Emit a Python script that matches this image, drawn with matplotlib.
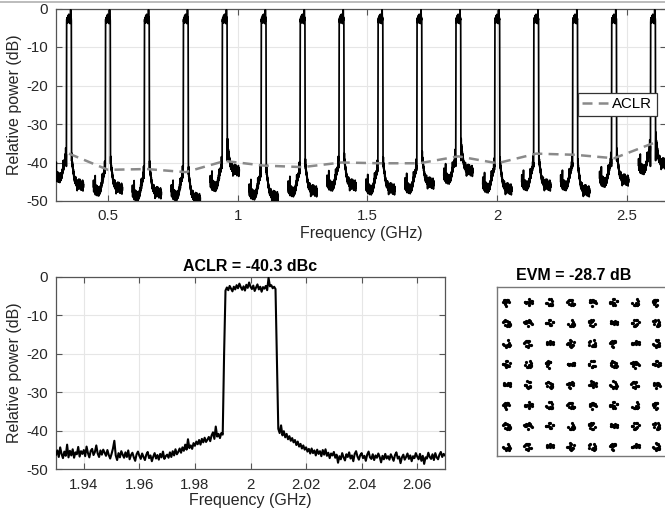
import numpy as np
import matplotlib
matplotlib.use("Agg")
import matplotlib.pyplot as plt
from matplotlib.lines import Line2D

plt.rcParams['font.family'] = ['Liberation Sans', 'DejaVu Sans']
plt.rcParams['axes.unicode_minus'] = False

# ---------------- data ----------------
# channel centres (GHz) in the wideband sweep
channel_centers = [0.35, 0.50, 0.65, 0.80, 0.95, 1.10, 1.25, 1.40,
                   1.55, 1.70, 1.85, 2.00, 2.15, 2.30, 2.45, 2.60]
# ACLR (dBc) measured per channel
aclr_values = [-37.7, -41.9, -41.7, -42.5, -39.6, -40.8, -41.2, -40.0,
               -40.2, -40.2, -38.4, -40.2, -37.7, -38.0, -38.9, -35.0]
# out-of-band level offsets (dB) of each channel's trace, lower / upper side
floor_shift_low = [2.7, -0.8, -2.1, -2.0, 0.4, -1.8, -1.0, 0.5,
                   -0.5, -0.2, 2.3, 0.0, 0.6, 0.6, 1.5, 4.8]
floor_shift_high = [1.0, 0.2, -1.0, -2.5, 4.8, -2.0, -0.5, 1.0,
                    0.0, 1.5, 4.8, 0.0, 1.0, -0.5, 2.3, 6.5]

# zoomed spectrum around 2 GHz, offsets -70..70 MHz in 0.5 MHz steps (dB)
zoom_power = [
    -46.2, -45.1, -46.8, -44.3, -46.0, -47.1, -45.4, -46.5, -43.6, -46.9,
    -45.2, -46.4, -44.8, -47.0, -45.6, -46.1, -44.2, -46.7, -45.3, -46.0,
    -45.0, -46.6, -44.1, -45.8, -46.9, -45.2, -44.7, -46.3, -45.5, -43.8,
    -45.9, -46.8, -45.1, -46.2, -44.9, -45.7, -46.5, -45.0, -46.3, -47.2,
    -46.0, -44.6, -42.6, -46.4, -47.6, -45.8, -46.9, -45.3, -46.2, -47.0,
    -45.6, -46.8, -45.1, -47.4, -46.3, -45.7, -46.9, -47.8, -46.1, -45.4,
    -46.5, -47.3, -45.9, -46.8, -47.6, -46.2, -45.5, -47.1, -46.4, -47.9,
    -46.7, -45.8, -47.2, -46.3, -47.5, -46.0, -46.9, -45.4, -47.3, -46.6,
    -46.2, -47.0, -45.6, -46.8, -45.3, -46.4, -44.8, -46.1, -45.5, -44.6,
    -45.7, -44.3, -45.2, -43.6, -44.9, -42.2, -44.5, -43.8, -44.7, -43.2,
    -43.9, -42.8, -43.5, -42.4, -43.6, -42.1, -43.0, -41.8, -42.9, -42.3,
    -41.6, -42.7, -41.2, -40.4, -42.1, -38.9, -41.5, -40.8, -41.9, -40.6,
    -41.0, -20.0, -3.6, -2.8, -3.5, -2.4, -3.1, -3.8, -2.6, -3.3,
    -2.2, -3.0, -1.8, -2.7, -3.4, -2.5, -3.6, -2.1, -2.9, -1.5,
    -2.6, -3.2, -2.3, -3.7, -2.8, -2.0, -3.3, -2.6, -3.9, -2.7,
    -3.1, -2.4, -3.5, -0.3, -2.5, -2.2, -3.0, -2.6, -3.2, -22.0,
    -39.5, -40.6, -38.6, -41.2, -40.1, -41.7, -40.8, -42.2, -41.4, -42.6,
    -41.9, -43.0, -42.4, -43.7, -42.8, -44.1, -43.4, -44.6, -43.8, -44.9,
    -44.3, -45.4, -44.7, -45.9, -44.6, -45.8, -45.1, -46.4, -44.9, -46.0,
    -45.3, -46.6, -45.0, -46.2, -44.8, -46.5, -45.7, -47.1, -45.9, -46.4,
    -45.5, -47.0, -46.2, -48.3, -46.6, -47.4, -45.8, -46.9, -47.7, -46.1,
    -46.8, -45.6, -47.2, -46.4, -47.9, -46.0, -45.3, -46.7, -47.5, -46.3,
    -45.8, -47.1, -46.5, -47.8, -46.2, -45.4, -46.9, -47.3, -46.1, -47.6,
    -46.4, -47.0, -45.9, -46.8, -48.2, -46.5, -47.4, -46.0, -47.2, -46.6,
    -47.5, -46.1, -46.9, -47.8, -46.3, -45.6, -47.2, -46.7, -48.4, -46.9,
    -46.2, -47.5, -46.8, -45.9, -47.3, -46.4, -47.9, -46.6, -47.1, -45.8,
    -46.7, -47.4, -46.0, -47.8, -46.5, -48.6, -46.9, -47.2, -45.7, -46.8,
    -47.3, -46.1, -47.6, -45.8, -46.9, -47.4, -46.2, -45.5, -46.8, -46.0, -46.4,
]
zoom_center = 2.0
aclr_title = "ACLR = -40.3 dBc"
evm_title = "EVM = -28.7 dB"

# 64-QAM constellation: ideal levels and hand-read scatter offsets
qam_levels = [-7, -5, -3, -1, 1, 3, 5, 7]
jitter_dx = [0.12, -0.21, 0.05, 0.28, -0.09, -0.30, 0.18, 0.02, -0.15, 0.25,
             -0.04, 0.33, -0.26, 0.10, -0.12, 0.22, -0.33, 0.07, 0.15, -0.19,
             0.29, -0.06, 0.01, -0.24, 0.20, -0.11, 0.34, -0.02, -0.28, 0.13,
             0.08, -0.17, 0.24, -0.31, 0.04, 0.17, -0.08, 0.27, -0.22, 0.11]
jitter_dy = [-0.08, 0.19, 0.30, -0.14, 0.06, 0.02, -0.27, 0.23, -0.03, 0.11,
             -0.32, 0.15, -0.10, 0.26, 0.04, -0.21, 0.09, -0.05, 0.31, -0.18,
             0.13, -0.24, 0.20, 0.00, -0.12, 0.28, -0.07, -0.29, 0.16, 0.07,
             -0.16, 0.24, 0.03, -0.02, -0.25, 0.17, 0.33, -0.11, 0.05, -0.20]

# ---------------- figure ----------------
fig = plt.figure(figsize=(6.65, 5.08), dpi=100)
W, H = 665.0, 508.0

def frac(l, t, r, b):
    return [l / W, 1 - b / H, (r - l) / W, (b - t) / H]

spine_col = '#555555'
tick_col = '#262626'
grid_col = '#e6e6e6'
LBL = 11.5
TCK = 10.8

def style(ax):
    for s in ax.spines.values():
        s.set_color(spine_col)
        s.set_linewidth(0.9)
    ax.tick_params(direction='in', top=True, right=True, length=4,
                   width=0.8, color=spine_col, labelcolor=tick_col,
                   labelsize=TCK, pad=6)
    ax.grid(True, color=grid_col, linewidth=0.8)
    ax.set_axisbelow(True)

offsets_mhz = np.arange(-70, 70.5, 0.5)
zp = np.array(zoom_power)

# ---- top: wideband spectrum ----
ax1 = fig.add_axes(frac(56, 8.5, 666, 201))
style(ax1)
for i, fc in enumerate(channel_centers):
    sel = np.abs(offsets_mhz) <= 56
    off = offsets_mhz[sel]
    vals = zp[sel].copy()
    oob_low = off < -10
    oob_high = off > 10
    vals[oob_low] += floor_shift_low[i]
    vals[oob_high] += floor_shift_high[i]
    ax1.plot(fc + off / 1000.0, vals, color='black', lw=1.25, zorder=3)
ax1.plot(channel_centers, aclr_values, color='#8a8a8a', lw=1.8,
         dashes=(4, 2.5), label='ACLR', zorder=4)
ax1.set_xlim(0.3, 2.65)
ax1.set_ylim(-50, 0)
ax1.set_xticks([0.5, 1, 1.5, 2, 2.5])
ax1.set_xticklabels(['0.5', '1', '1.5', '2', '2.5'])
ax1.set_yticks([0, -10, -20, -30, -40, -50])
ax1.set_yticklabels(['0', '-10', '-20', '-30', '-40', '-50'])
ax1.set_xlabel('Frequency (GHz)', fontsize=LBL, color=tick_col, labelpad=2)
ax1.set_ylabel('Relative power (dB)', fontsize=LBL, color=tick_col, labelpad=3)
leg = ax1.legend(loc='upper right', bbox_to_anchor=(0.985, 0.563),
                 frameon=True, fancybox=False, framealpha=1, fontsize=TCK,
                 handlelength=1.7, handletextpad=0.3, borderpad=0.3,
                 borderaxespad=0)
leg.get_frame().set_edgecolor('#333333')
leg.get_frame().set_linewidth(0.9)

# ---- bottom left: zoomed channel ----
ax2 = fig.add_axes(frac(56, 276.7, 445, 469.3))
style(ax2)
ax2.plot(zoom_center + offsets_mhz / 1000.0, zp, color='black', lw=1.5, zorder=3)
ax2.set_xlim(1.93, 2.07)
ax2.set_ylim(-50, 0)
xt = [1.94, 1.96, 1.98, 2.0, 2.02, 2.04, 2.06]
ax2.set_xticks(xt)
ax2.set_xticklabels(['%g' % v for v in xt])
ax2.set_yticks([0, -10, -20, -30, -40, -50])
ax2.set_yticklabels(['0', '-10', '-20', '-30', '-40', '-50'])
ax2.set_xlabel('Frequency (GHz)', fontsize=LBL, color=tick_col, labelpad=1)
ax2.set_ylabel('Relative power (dB)', fontsize=LBL, color=tick_col, labelpad=3)
ax2.set_title(aclr_title, fontsize=11.5, fontweight='bold', pad=4)

# ---- bottom right: constellation ----
ax3 = fig.add_axes(frac(497, 287, 666, 456))
for s in ax3.spines.values():
    s.set_color('#777777')
    s.set_linewidth(1.0)
ax3.set_xticks([])
ax3.set_yticks([])
k = 0
for yi in qam_levels:
    for xi in qam_levels:
        idx = [(k * 7 + j * 3) % len(jitter_dx) for j in range(12)]
        px = [xi + jitter_dx[n] for n in idx]
        py = [yi + jitter_dy[n] for n in idx]
        ax3.plot(px, py, '.', color='black', markersize=2.6, zorder=3)
        k += 1
ax3.set_xlim(-7.9, 7.9)
ax3.set_ylim(-7.9, 8.5)
ax3.set_title(evm_title, fontsize=11.5, fontweight='bold', pad=5, x=0.456)

fig.add_artist(Line2D([0, 1], [1 - 1.5 / H, 1 - 1.5 / H], color='#b0b0b0', lw=1.2))

fig.savefig('out.png', dpi=100)
